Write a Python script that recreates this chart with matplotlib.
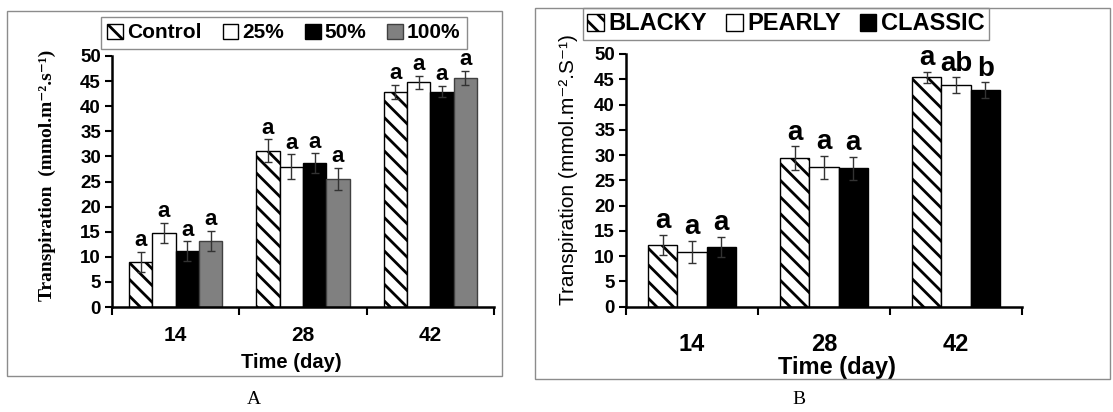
import numpy as np
import matplotlib
matplotlib.use('Agg')
import matplotlib.pyplot as plt
from matplotlib.patches import Rectangle

plt.rcParams['font.family'] = ['Liberation Sans', 'DejaVu Sans']
plt.rcParams['hatch.linewidth'] = 2.0

days = ['14', '28', '42']

# panel A: doses
doses = ['Control', '25%', '50%', '100%']
control = [9.0, 31.1, 42.9]
d25 = [14.8, 27.9, 44.8]
d50 = [11.1, 28.6, 42.9]
d100 = [13.2, 25.5, 45.6]
control_err = [2.0, 2.3, 1.4]
d25_err = [2.0, 2.5, 1.3]
d50_err = [2.0, 2.0, 1.1]
d100_err = [2.0, 2.2, 1.4]
letters_a = [['a', 'a', 'a'], ['a', 'a', 'a'], ['a', 'a', 'a'], ['a', 'a', 'a']]

# panel B: cultivars
cultivars = ['BLACKY', 'PEARLY', 'CLASSIC']
blacky = [12.2, 29.4, 45.4]
pearly = [10.8, 27.6, 43.8]
classic = [11.8, 27.4, 42.8]
blacky_err = [2.0, 2.3, 1.1]
pearly_err = [2.2, 2.3, 1.6]
classic_err = [2.0, 2.3, 1.6]
letters_b = [['a', 'a', 'a'], ['a', 'a', 'ab'], ['a', 'a', 'b']]

W, H = 1113, 412
fig = plt.figure(figsize=(W / 100, H / 100), dpi=100)

def fx(px):
    return px / W

def fy(py):
    return 1 - py / H

# panel frames
fig.patches.append(Rectangle((fx(7), fy(376)), fx(502 - 7), (376 - 11) / H,
                             transform=fig.transFigure, fill=False, ec='#8c8c8c', lw=1))
fig.patches.append(Rectangle((fx(535), fy(379)), fx(1110 - 535), (379 - 8) / H,
                             transform=fig.transFigure, fill=False, ec='#8c8c8c', lw=1))


def style_axes(ax, tick_fs, pad):
    ax.set_ylim(0, 50)
    ax.set_xlim(-0.5, 2.5)
    ax.set_yticks(np.arange(0, 51, 5))
    ax.spines['top'].set_visible(False)
    ax.spines['right'].set_visible(False)
    ax.spines['left'].set_linewidth(1.8)
    ax.spines['bottom'].set_linewidth(1.8)
    ax.set_xticks([-0.5, 0.5, 1.5, 2.5])
    ax.set_xticklabels([])
    ax.set_xticks([0, 1, 2], minor=True)
    ax.set_xticklabels(days, minor=True, fontsize=tick_fs, fontweight='bold')
    ax.tick_params(axis='x', which='major', direction='out', length=6, width=1.5)
    ax.tick_params(axis='x', which='minor', length=0, pad=pad)
    ax.tick_params(axis='y', direction='out', length=5, width=1.5, pad=3)
    for t in ax.get_yticklabels():
        t.set_fontweight('bold')
        t.set_fontsize(13.5)


def draw_bars(ax, series, errs, styles, width, letters, letter_fs):
    n = len(series)
    x = np.arange(3)
    handles = []
    for i, (vals, err, st) in enumerate(zip(series, errs, styles)):
        pos = x + (i - (n - 1) / 2) * width
        b = ax.bar(pos, vals, width, yerr=err, color=st['color'], hatch=st.get('hatch'),
                   edgecolor=st['ec'], linewidth=1.0,
                   error_kw=dict(ecolor='#333333', elinewidth=1, capsize=3, capthick=1))
        handles.append(b)
        for p, v, e, lab in zip(pos, vals, err, letters[i]):
            ax.annotate(lab, (p, v + e), xytext=(0, 0.5), textcoords='offset points',
                        ha='center', va='bottom', fontsize=letter_fs, fontweight='bold')
    return handles


# ---- panel A ----
axA = fig.add_axes([fx(112), fy(307), fx(494 - 112), (307 - 56) / H])
stylesA = [dict(color='white', hatch='\\\\', ec='black'),
           dict(color='white', ec='black'),
           dict(color='black', ec='black'),
           dict(color='#808080', ec='#404040')]
hA = draw_bars(axA, [control, d25, d50, d100], [control_err, d25_err, d50_err, d100_err],
               stylesA, 0.183, letters_a, 16)
style_axes(axA, 15, 14)
axA.set_xlabel('Time (day)', fontsize=14.5, fontweight='bold')
axA.xaxis.set_label_coords(0.47, -0.182)
axA.xaxis.label.set_va('top')
fig.text(fx(47), fy(175), 'Transpiration  (mmol.m⁻².s⁻¹)', rotation=90, ha='center', va='center',
         fontsize=14, fontweight='bold', family=['Liberation Serif', 'DejaVu Serif'])
axA.legend(hA, doses, loc='center', bbox_to_anchor=(fx(284), fy(33)), bbox_transform=fig.transFigure,
           ncol=4, fancybox=False, edgecolor='#8c8c8c', framealpha=1,
           prop=dict(size=15, weight='bold'), handlelength=0.75, handleheight=0.75,
           handletextpad=0.2, columnspacing=1.0, borderpad=0.3, borderaxespad=0)

# ---- panel B ----
axB = fig.add_axes([fx(626), fy(306.7), fx(1022 - 626), (306.7 - 54) / H])
stylesB = [dict(color='white', hatch='\\\\', ec='black'),
           dict(color='white', ec='black'),
           dict(color='black', ec='black')]
hB = draw_bars(axB, [blacky, pearly, classic], [blacky_err, pearly_err, classic_err],
               stylesB, 0.223, letters_b, 20)
style_axes(axB, 17, 19)
axB.set_xlabel('Time (day)', fontsize=17, fontweight='bold')
axB.xaxis.set_label_coords(0.533, -0.195)
axB.xaxis.label.set_va('top')
fig.text(fx(568), fy(170), 'Transpiration (mmol.m⁻².S⁻¹)', rotation=90, ha='center', va='center',
         fontsize=15, family=['Liberation Sans', 'DejaVu Sans'])
axB.legend(hB, cultivars, loc='center', bbox_to_anchor=(fx(786), fy(24)), bbox_transform=fig.transFigure,
           ncol=3, fancybox=False, edgecolor='#8c8c8c', framealpha=1,
           prop=dict(size=17, weight='bold'), handlelength=0.7, handleheight=0.7,
           handletextpad=0.2, columnspacing=0.8, borderpad=0.2, borderaxespad=0)

# captions
fig.text(fx(254), fy(400), 'A', ha='center', va='center', fontsize=14,
         family=['Liberation Serif', 'DejaVu Serif'])
fig.text(fx(799), fy(400), 'B', ha='center', va='center', fontsize=14,
         family=['Liberation Serif', 'DejaVu Serif'])

fig.savefig('out.png', dpi=100)
